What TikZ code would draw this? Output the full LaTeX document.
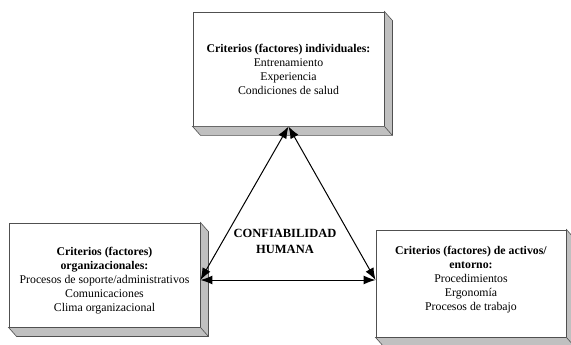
\documentclass[tikz,border=0pt]{standalone}
\usepackage{fontspec}
\setmainfont{Liberation Serif}
\usetikzlibrary{arrows.meta,calc}
\definecolor{randgrau}{RGB}{80,80,80}
\definecolor{seitengrau}{RGB}{192,192,192}

\tikzset{
	kasten/.style={draw=randgrau, line width=0.9pt, fill=white, rectangle, align=center,
		font=\fontsize{11.8}{14}\selectfont},
	seite/.style={fill=seitengrau, draw=randgrau, line width=0.6pt},
	pfeil/.style={{Latex[length=12pt,width=9pt]}-{Latex[length=12pt,width=9pt]}, line width=1pt},
}
% 3D-Rand rechts und unten
\newcommand{\tiefe}[1]{%
	\filldraw[seite] (#1.north east) -- ++(8,9) -- ($(#1.south east)+(8,9)$) -- ($(#1.south west)+(8,9)$)
		-- (#1.south west) -- (#1.south east) -- cycle;
	\draw[seite] (#1.south east) -- ++(8,9);
}

\begin{document}
\begin{tikzpicture}[x=1pt, y=-1pt]
	\useasboundingbox (0,0) rectangle (571,345);
	% Kaesten
	\node[kasten, minimum width=191pt, minimum height=114pt] (indiv) at (288.5,69)
		{\textbf{Criterios (factores) individuales:}\\ Entrenamiento\\ Experiencia\\ Condiciones de salud};
	\node[kasten, minimum width=191pt, minimum height=104pt] (org) at (104.5,275)
		{\rule{0pt}{19pt}\textbf{Criterios (factores)}\\ \textbf{organizacionales:}\\ Procesos de soporte/administrativos\\ Comunicaciones\\ Clima organizacional};
	\node[kasten, minimum width=190pt, minimum height=107pt] (activos) at (471,283.5)
		{\textbf{Criterios (factores) de activos/}\\ \textbf{entorno:}\\ Procedimientos\\ Ergonomía\\ Procesos de trabajo\rule[-9.6pt]{0pt}{0pt}};
	\tiefe{indiv}
	\tiefe{org}
	\tiefe{activos}
	% Mitte
	\node[align=center, font=\fontsize{12.5}{16}\selectfont\bfseries] (conf) at (285,241)
		{CONFIABILIDAD\\ HUMANA};
	% Pfeile
	\draw[pfeil] (indiv.south) -- ([yshift=-5pt]org.east);
	\draw[pfeil] (indiv.south) -- ([yshift=3.5pt]activos.west);
	\draw[pfeil] ([yshift=-5pt]org.east) -- ([yshift=3.5pt]activos.west);
\end{tikzpicture}
\end{document}
